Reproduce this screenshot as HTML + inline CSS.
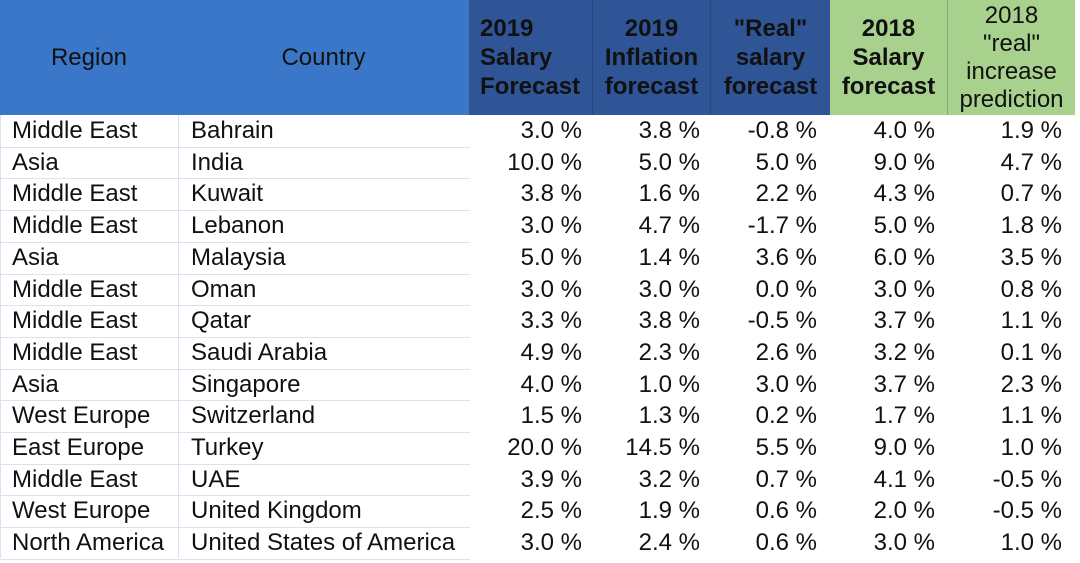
<!DOCTYPE html>
<html><head><meta charset="utf-8"><style>
body{margin:0;width:1080px;height:563px;background:#fff;overflow:hidden;font-family:"Liberation Sans",Arial,sans-serif;position:relative}
.h{position:absolute;top:0;height:115px;display:flex;align-items:center;justify-content:center;text-align:center;font-size:24px;line-height:29px;color:#111;box-sizing:border-box}
.c{position:absolute;font-size:24px;color:#111;height:31.7px;line-height:31.7px;white-space:nowrap}
.r{text-align:right}
.ln{position:absolute;left:0;width:470px;height:1px;background:#d6e3f2}
.vl{position:absolute;top:115px;height:443px;width:1px;background:#d6e3f2}
</style></head><body>
<div class="h" style="left:0;width:469px;background:#3b77c9"></div>
<div class="h" style="left:0;width:178px;background:#3b77c9">Region</div>
<div class="h" style="left:178px;width:291px;background:#3b77c9">Country</div>
<div class="h" style="left:469px;width:124px;background:#2f5597;font-weight:bold;justify-content:flex-start;text-align:left;padding-left:11px;border-right:1px solid #27487f">2019<br>Salary<br>Forecast</div>
<div class="h" style="left:593px;width:118px;background:#2f5597;font-weight:bold;border-right:1px solid #27487f">2019<br>Inflation<br>forecast</div>
<div class="h" style="left:711px;width:119px;background:#2f5597;font-weight:bold">"Real"<br>salary<br>forecast</div>
<div class="h" style="left:830px;width:118px;background:#a9d18e;font-weight:bold;border-right:1px solid #7fae6a">2018<br>Salary<br>forecast</div>
<div class="h" style="left:948px;width:127px;background:#a9d18e;line-height:28px">2018<br>"real"<br>increase<br>prediction</div>
<div class="vl" style="left:178px"></div>
<div class="vl" style="left:0"></div>
<div id="rows"></div>
<script>
const regions=["Middle East","Asia","Middle East","Middle East","Asia","Middle East","Middle East","Middle East","Asia","West Europe","East Europe","Middle East","West Europe","North America"];
const countries=["Bahrain","India","Kuwait","Lebanon","Malaysia","Oman","Qatar","Saudi Arabia","Singapore","Switzerland","Turkey","UAE","United Kingdom","United States of America"];
const salary2019=[3.0,10.0,3.8,3.0,5.0,3.0,3.3,4.9,4.0,1.5,20.0,3.9,2.5,3.0];
const inflation2019=[3.8,5.0,1.6,4.7,1.4,3.0,3.8,2.3,1.0,1.3,14.5,3.2,1.9,2.4];
const real2019=[-0.8,5.0,2.2,-1.7,3.6,0.0,-0.5,2.6,3.0,0.2,5.5,0.7,0.6,0.6];
const salary2018=[4.0,9.0,4.3,5.0,6.0,3.0,3.7,3.2,3.7,1.7,9.0,4.1,2.0,3.0];
const real2018=[1.9,4.7,0.7,1.8,3.5,0.8,1.1,0.1,2.3,1.1,1.0,-0.5,-0.5,1.0];
const numCols=[[salary2019,582,"salary-2019"],[inflation2019,700,"inflation-2019"],[real2019,817,"real-2019"],[salary2018,935,"salary-2018"],[real2018,1062,"real-2018"]];
const top0=115,pitch=31.7;
const root=document.getElementById('rows');
function add(text,left,top,right,name){
  const d=document.createElement('div');
  d.className='c'+(right?' r':'');
  
  
  d.textContent=text;
  d.style.top=top+'px';
  if(right){d.style.left=(left-140)+'px';d.style.width='140px';}else d.style.left=left+'px';
  root.appendChild(d);
}
regions.forEach((r,i)=>{
  const y=top0+i*pitch;
  add(r,12,y,false,'region-cell');
  add(countries[i],191,y,false,'country-cell');
  numCols.forEach(([arr,x,n])=>add(arr[i].toFixed(1)+' %',x,y,true,n+'-cell'));
  const l=document.createElement('div');
  l.className='ln';
  
  
  l.style.top=(y+pitch)+'px';
  root.appendChild(l);
});
</script>
</body></html>
